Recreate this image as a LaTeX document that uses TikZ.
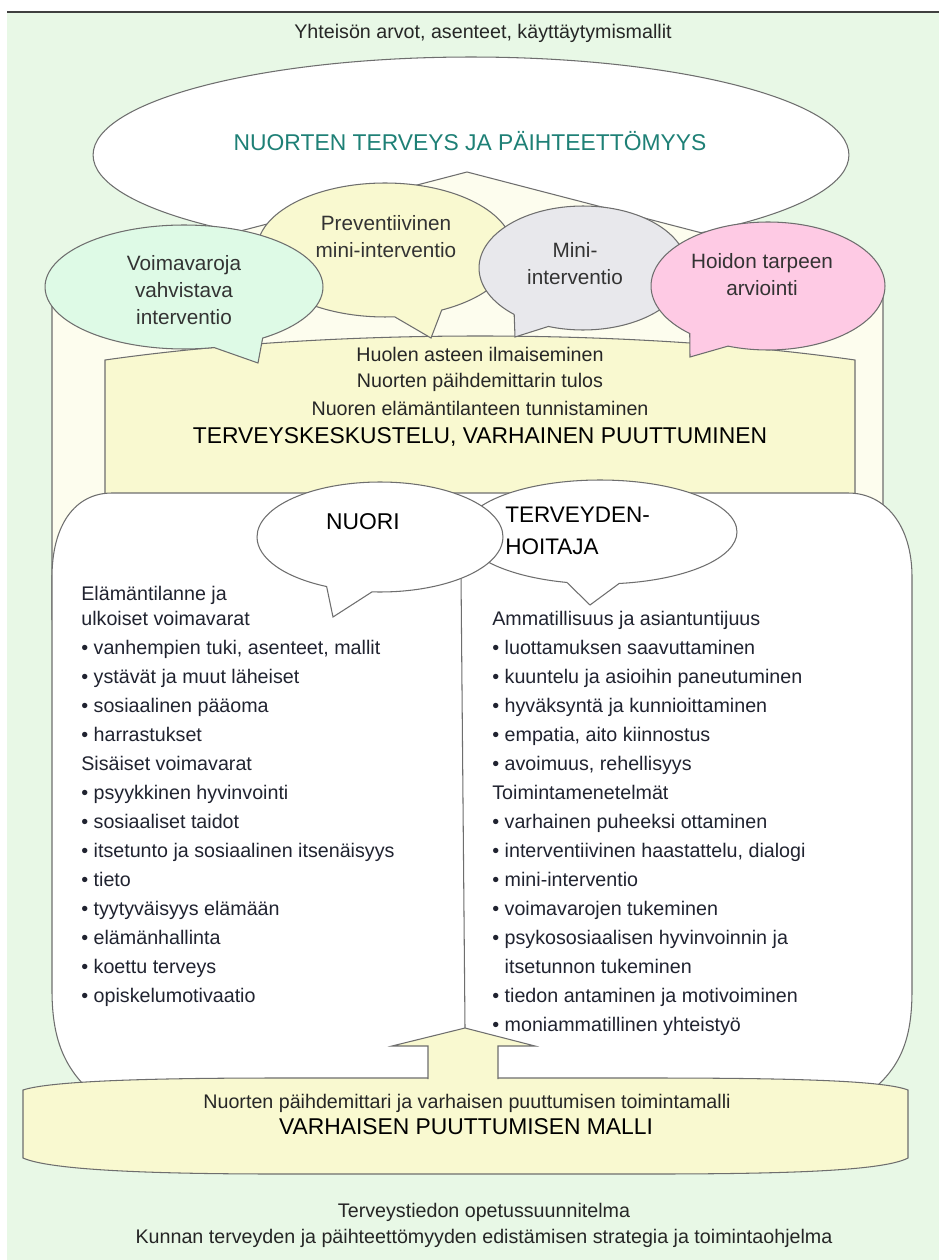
\documentclass[tikz,border=0pt]{standalone}
\usepackage{fontspec}
\setmainfont{Liberation Sans}
\usetikzlibrary{shapes.geometric,shapes.callouts,positioning}

\definecolor{bggreen}{RGB}{232,248,230}
\definecolor{housecream}{RGB}{253,253,238}
\definecolor{boxyellow}{RGB}{249,249,208}
\definecolor{vvgreen}{RGB}{222,250,230}
\definecolor{minigrey}{RGB}{232,232,236}
\definecolor{hoitopink}{RGB}{254,202,228}
\definecolor{lineg}{RGB}{110,110,110}
\definecolor{tealtxt}{RGB}{30,128,118}
\definecolor{itemtxt}{RGB}{32,35,48}

\begin{document}
\begin{tikzpicture}[x=0.02cm,y=-0.02cm,
  outline/.style={draw=lineg,line width=0.6pt},
  bubble/.style={ellipse callout,outline,inner sep=0pt,outer sep=0pt,callout pointer arc=22},
  txt/.style={font=\fontsize{11.2}{14}\selectfont,text=black!85,inner sep=0pt},
  btxt/.style={font=\fontsize{11.8}{15.3}\selectfont,text=black!80,align=center,inner sep=0pt},
  head/.style={font=\fontsize{13}{16}\selectfont,inner sep=0pt},
  item/.style={txt,anchor=base west,text=itemtxt}]

  \useasboundingbox (0,0) rectangle (939,1260);
  \fill[bggreen] (7,13) rectangle (939,1260);
  \draw[line width=1.2pt,black!75] (7,12) -- (939,12);

  \node[txt] (yhteiso) at (483,33) {Yhteisön arvot, asenteet, käyttäytymismallit};

  % iso ellipsi
  \node[ellipse,outline,fill=white,minimum width=15.12cm,minimum height=3.92cm,inner sep=0pt] (terveys) at (471,155) {};
  \node[head,text=tealtxt] (terveysTxt) at (470,141) {NUORTEN TERVEYS JA PÄIHTEETTÖMYYS};

  % talo ja keltainen laatikko
  \filldraw[outline,fill=housecream] (52,620) -- (52,280) -- (467,172) -- (883,280) -- (883,620);
  \filldraw[outline,fill=boxyellow] (105,620) -- (105,360) .. controls (330,328) and (630,328) .. (855,360) -- (855,620);

  % puhekuplat ylhaalla
  \node[bubble,fill=boxyellow,minimum width=5.12cm,minimum height=2.68cm,callout absolute pointer={(431,338)}] (prev) at (385,250) {};
  \node[bubble,fill=minigrey,minimum width=4.16cm,minimum height=2.48cm,callout absolute pointer={(515,337)}] (mini) at (583,268) {};
  \node[bubble,fill=vvgreen,minimum width=5.56cm,minimum height=2.48cm,callout absolute pointer={(258,363)}] (vv) at (184,287) {};
  \node[bubble,fill=hoitopink,minimum width=4.68cm,minimum height=2.56cm,callout absolute pointer={(690,357)}] (hoito) at (768,286) {};
  \node[btxt] (prevTxt) at (386,237) {Preventiivinen\\mini-interventio};
  \node[btxt] (miniTxt) at (575,264) {Mini-\\interventio};
  \node[btxt] (vvTxt) at (184,290) {Voimavaroja\\vahvistava\\interventio};
  \node[btxt] (hoitoTxt) at (762,275) {Hoidon tarpeen\\arviointi};

  \node[txt] (huoli) at (480,354) {Huolen asteen ilmaiseminen};
  \node[txt] (mittari) at (480,382) {Nuorten päihdemittarin tulos};
  \node[txt] (tilanne) at (480,408) {Nuoren elämäntilanteen tunnistaminen};
  \node[head] (keskustelu) at (480,437) {TERVEYSKESKUSTELU, VARHAINEN PUUTTUMINEN};

  % valkoinen alue
  \filldraw[outline,fill=white] (84,1085) .. controls (60,1060) and (52,1030) .. (52,990) -- (52,577)
    .. controls (52,525) and (75,493) .. (112,493) -- (848,493)
    .. controls (885,493) and (912,525) .. (912,577) -- (912,990)
    .. controls (912,1030) and (905,1060) .. (878,1085);
  \coordinate (divTop) at (461,575);
  \coordinate (arrowTip) at (465,1028);
  \draw[outline] (divTop) -- (arrowTip);

  \node[bubble,fill=white,minimum width=5.48cm,minimum height=2.08cm,callout absolute pointer={(590,605)}] (hoitaja) at (600,532) {};
  \node[bubble,fill=white,minimum width=4.92cm,minimum height=2.2cm,callout absolute pointer={(333,617)}] (nuori) at (380,537) {};
  \node[head] (nuoriTxt) at (363,522) {NUORI};
  \node[head,align=left,anchor=west,font=\fontsize{12.8}{18}\selectfont] (hoitajaTxt) at (505,531) {TERVEYDEN-\\HOITAJA};

  % vasen sarake
  \node[item] (elama1) at (81,600) {Elämäntilanne ja};
  \node[item] (elama2) at (81,625) {ulkoiset voimavarat};
  \foreach \t [count=\i] in {{• vanhempien tuki, asenteet, mallit},{• ystävät ja muut läheiset},
      {• sosiaalinen pääoma},{• harrastukset},{Sisäiset voimavarat},{• psyykkinen hyvinvointi},
      {• sosiaaliset taidot},{• itsetunto ja sosiaalinen itsenäisyys},{• tieto},
      {• tyytyväisyys elämään},{• elämänhallinta},{• koettu terveys},{• opiskelumotivaatio}}
    \node[item] (vasen\i) at (81,{625+29*\i}) {\t};

  % oikea sarake
  \foreach \t [count=\i from 0] in {{Ammatillisuus ja asiantuntijuus},{• luottamuksen saavuttaminen},
      {• kuuntelu ja asioihin paneutuminen},{• hyväksyntä ja kunnioittaminen},
      {• empatia, aito kiinnostus},{• avoimuus, rehellisyys},{Toimintamenetelmät},
      {• varhainen puheeksi ottaminen},{• interventiivinen haastattelu, dialogi},
      {• mini-interventio},{• voimavarojen tukeminen},{• psykososiaalisen hyvinvoinnin ja},
      {\hphantom{• }itsetunnon tukeminen},{• tiedon antaminen ja motivoiminen},
      {• moniammatillinen yhteistyö}}
    \node[item] (oikea\i) at (492,{625+29*\i}) {\t};

  % alaosa
  \filldraw[outline,fill=boxyellow] (23,1090) -- (23,1158) .. controls (50,1170) and (150,1174) .. (280,1174)
    -- (650,1174) .. controls (800,1174) and (885,1170) .. (908,1158) -- (908,1090)
    .. controls (885,1081) and (800,1078) .. (650,1078) -- (280,1078)
    .. controls (150,1078) and (50,1081) .. (23,1090) -- cycle;
  \filldraw[outline,fill=boxyellow] (428,1079) -- (428,1046) -- (392,1046) -- (arrowTip)
    -- (535,1046) -- (498,1046) -- (498,1079);
  \node[txt] (toimintamalli) at (467,1103) {Nuorten päihdemittari ja varhaisen puuttumisen toimintamalli};
  \node[head] (malli) at (466,1127) {VARHAISEN PUUTTUMISEN MALLI};

  \node[txt] (ops) at (484,1212) {Terveystiedon opetussuunnitelma};
  \node[txt] (strategia) at (484,1238) {Kunnan terveyden ja päihteettömyyden edistämisen strategia ja toimintaohjelma};
\end{tikzpicture}
\end{document}
